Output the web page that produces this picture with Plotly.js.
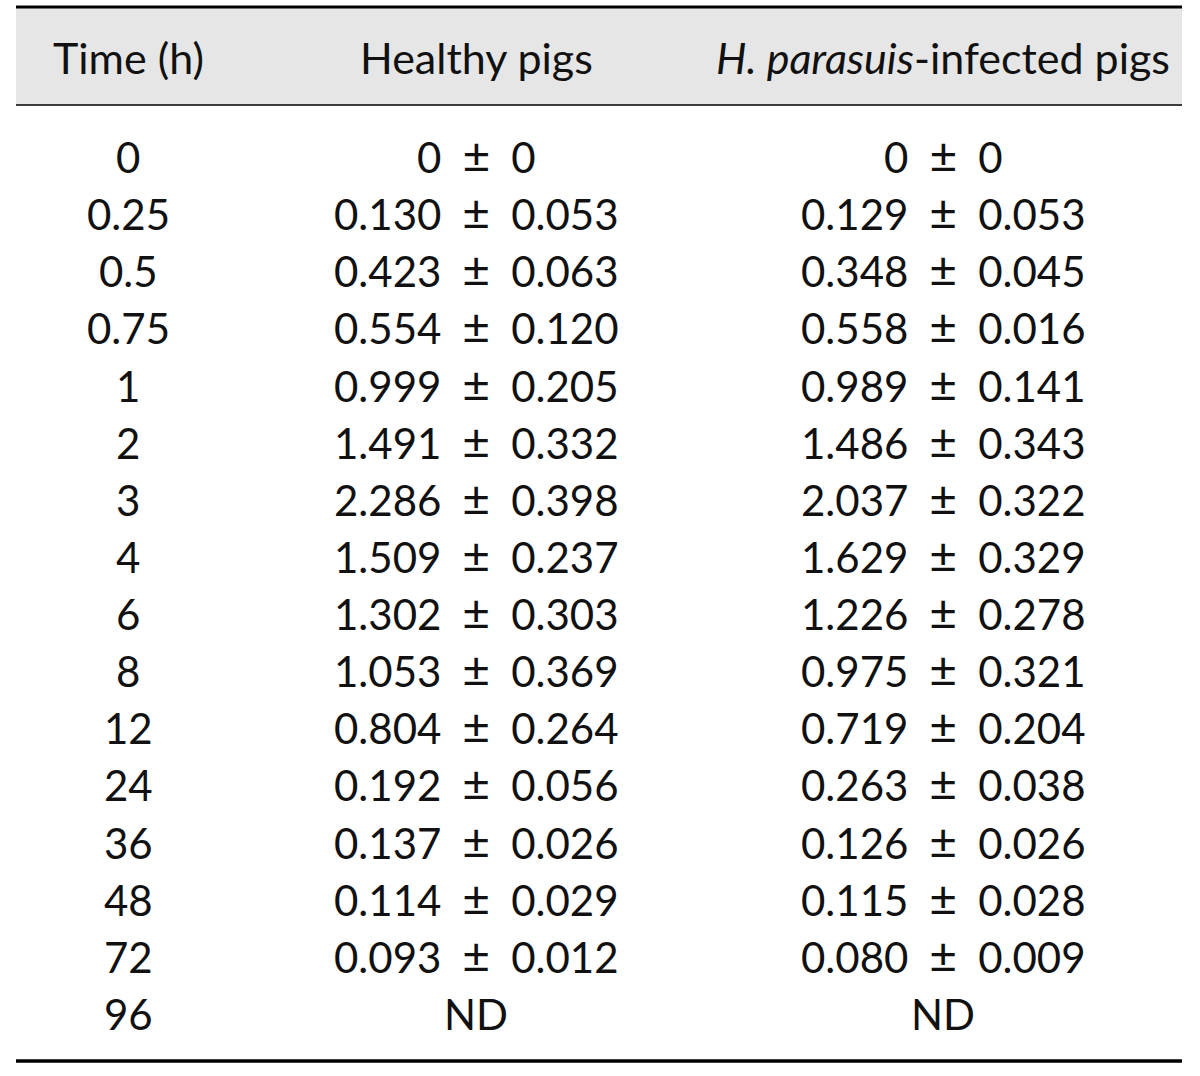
<!DOCTYPE html>
<html>
<head>
<meta charset="utf-8">
<script src="https://cdn.plot.ly/plotly-3.0.1.min.js"></script>
<style>html,body{margin:0;padding:0;background:#fff;}#chart{width:1200px;height:1076px;}</style>
</head>
<body>
<div id="chart"></div>
<script>
// Column headers
const headers = ["Time (h)", "Healthy pigs", "<i>H. parasuis</i>-infected pigs"];
// Time points (h)
const timePoints = ["0", "0.25", "0.5", "0.75", "1", "2", "3", "4", "6", "8", "12", "24", "36", "48", "72", "96"];
// Healthy pigs: mean and SD (null = ND)
const healthyMean = ["0", "0.130", "0.423", "0.554", "0.999", "1.491", "2.286", "1.509", "1.302", "1.053", "0.804", "0.192", "0.137", "0.114", "0.093", null];
const healthySD   = ["0", "0.053", "0.063", "0.120", "0.205", "0.332", "0.398", "0.237", "0.303", "0.369", "0.264", "0.056", "0.026", "0.029", "0.012", null];
// H. parasuis-infected pigs: mean and SD (null = ND)
const infectedMean = ["0", "0.129", "0.348", "0.558", "0.989", "1.486", "2.037", "1.629", "1.226", "0.975", "0.719", "0.263", "0.126", "0.115", "0.080", null];
const infectedSD   = ["0", "0.053", "0.045", "0.016", "0.141", "0.343", "0.322", "0.329", "0.278", "0.321", "0.204", "0.038", "0.026", "0.028", "0.009", null];

const FONT = "Lato, 'Open Sans', sans-serif";
const colX = [128, 476, 943];
const headerY = 57;
const rowY0 = 157, rowStep = 57.13;
const fsBody = 42, fsHead = 43;

function cell(m, s) {
  return (m === null) ? "ND" : (m + "\u2002<span style='font-size:48px'>\u00B1</span>\u2002" + s);
}

const annotations = [];
headers.forEach((h, j) => {
  annotations.push({x: colX[j], y: headerY, xref: 'x', yref: 'y', text: h, showarrow: false,
    xanchor: 'center', yanchor: 'middle', font: {family: FONT, size: fsHead, color: '#111'}});
});
timePoints.forEach((t, i) => {
  const y = rowY0 + i * rowStep;
  const vals = [t, cell(healthyMean[i], healthySD[i]), cell(infectedMean[i], infectedSD[i])];
  vals.forEach((v, j) => {
    const hasSpan = v.indexOf('<span') >= 0;
    annotations.push({x: colX[j], y: y, xref: 'x', yref: 'y', text: v, showarrow: false,
      yshift: hasSpan ? 2.5 : 0,
      xanchor: 'center', yanchor: 'middle', font: {family: FONT, size: fsBody, color: '#111'}});
  });
});

const shapes = [
  {type: 'rect', xref: 'x', yref: 'y', x0: 16, x1: 1182, y0: 7, y1: 105, fillcolor: '#e6e6e6', line: {width: 0}, layer: 'below'},
  {type: 'line', xref: 'x', yref: 'y', x0: 16, x1: 1182, y0: 7, y1: 7, line: {color: '#000', width: 3}},
  {type: 'line', xref: 'x', yref: 'y', x0: 16, x1: 1182, y0: 105, y1: 105, line: {color: '#000', width: 1.5}},
  {type: 'line', xref: 'x', yref: 'y', x0: 16, x1: 1182, y0: 1061, y1: 1061, line: {color: '#000', width: 3.5}}
];

const layout = {
  width: 1200, height: 1076,
  margin: {l: 0, r: 0, t: 0, b: 0, pad: 0},
  paper_bgcolor: '#fff', plot_bgcolor: '#fff',
  xaxis: {range: [0, 1200], visible: false, fixedrange: true},
  yaxis: {range: [1076, 0], visible: false, fixedrange: true},
  showlegend: false,
  annotations: annotations,
  shapes: shapes
};

Plotly.newPlot('chart', [{x: [], y: [], type: 'scatter', hoverinfo: 'skip'}], layout, {displayModeBar: false, staticPlot: true});
</script>
</body>
</html>
